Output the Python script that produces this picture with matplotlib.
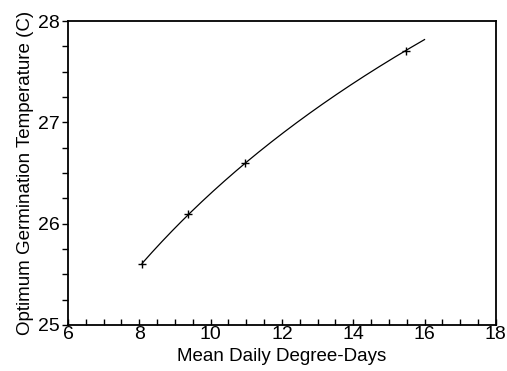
import numpy as np
import matplotlib
matplotlib.use("Agg")
import matplotlib.pyplot as plt
from matplotlib.ticker import MultipleLocator

# Data
degree_days = np.array([8.08, 9.38, 10.97, 15.49])
opt_temp = np.array([25.60, 26.10, 26.60, 27.71])
curve_end = 16.0  # fitted curve extends to this x

x_ticks = [6, 8, 10, 12, 14, 16, 18]
y_ticks = [25, 26, 27, 28]

plt.rcParams['font.family'] = ['Liberation Sans', 'DejaVu Sans']

fig = plt.figure(figsize=(5.07, 3.71), dpi=100)
ax = fig.add_axes([0.134, 0.124, 0.844, 0.819])

# logarithmic fit curve through data
coef = np.polyfit(np.log(degree_days), opt_temp, 1)
xc = np.linspace(degree_days.min(), curve_end, 200)
ax.plot(xc, np.polyval(coef, np.log(xc)), color='black', lw=0.9)
ax.plot(degree_days, opt_temp, linestyle='none', marker='+', color='black',
        markersize=6, markeredgewidth=1.0)

ax.set_xlim(6, 18)
ax.set_ylim(25, 28)
ax.set_xticks(x_ticks)
ax.set_yticks(y_ticks)
ax.xaxis.set_minor_locator(MultipleLocator(0.5))
ax.yaxis.set_minor_locator(MultipleLocator(0.25))
ax.tick_params(axis='x', which='both', direction='in', length=4, width=1,
               labelsize=14, pad=1, top=False)
ax.tick_params(axis='y', which='both', direction='out', length=4, width=1,
               labelsize=14, pad=2, right=False)
for s in ax.spines.values():
    s.set_linewidth(1.3)

ax.set_xlabel('Mean Daily Degree-Days', fontsize=13.5, labelpad=3)
ax.set_ylabel('Optimum Germination Temperature (C)', fontsize=13.5, labelpad=3)

fig.savefig('out.png', dpi=100)
